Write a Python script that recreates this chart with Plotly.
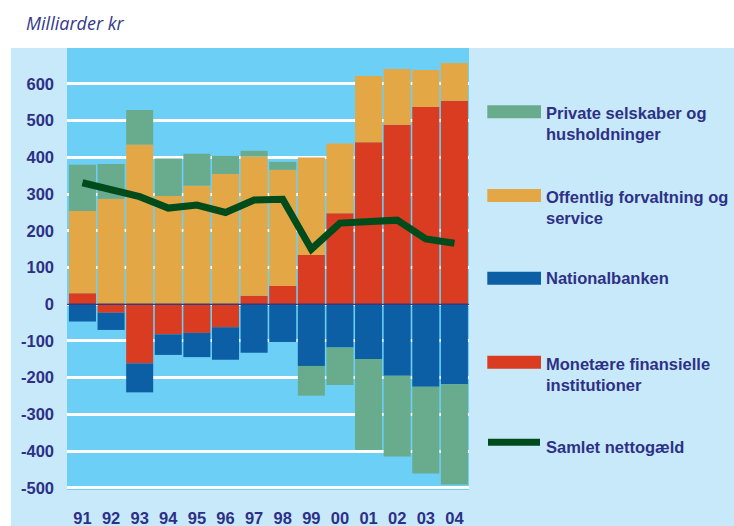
import plotly.graph_objects as go

# Years (1991-2004) and net debt components, billion DKK
years = ["91", "92", "93", "94", "95", "96", "97", "98", "99", "00", "01", "02", "03", "04"]
monetaere = [30, -23, -161, -82, -78, -63, 23, 50, 134, 248, 441, 489, 537, 554]
nationalbanken = [-47, -47, -79, -56, -66, -88, -132, -103, -168, -118, -149, -195, -225, -218]
offentlig = [224, 287, 435, 295, 323, 355, 379, 316, 266, 190, 181, 152, 101, 103]
private = [126, 95, 94, 102, 87, 49, 16, 22, -81, -102, -248, -220, -236, -273]
samlet = [331, 312, 293, 262, 270, 250, 284, 286, 150, 221, 225, 229, 178, 166]

y_ticks = [-500, -400, -300, -200, -100, 0, 100, 200, 300, 400, 500, 600]
y_labels = [str(v) for v in y_ticks]

legend_labels = [
    "Private selskaber og<br>husholdninger",
    "Offentlig forvaltning og<br>service",
    "Nationalbanken",
    "Monetære finansielle<br>institutioner",
    "Samlet nettogæld",
]

GREEN = "#69AB8D"
ORANGE = "#E3A845"
BLUE = "#0C5FA4"
RED = "#D93C20"
LINE = "#004B1C"
CYAN = "#6CCFF6"
PANEL = "#C7E9FA"
NAVY = "#2E3087"

BOLD = "Liberation Sans, Arial, sans-serif"
FS = 16.5

fig = go.Figure()
# stacking order: red first on both sides, then blue/orange, then green
for vals, col in [(monetaere, RED), (nationalbanken, BLUE), (offentlig, ORANGE), (private, GREEN)]:
    fig.add_trace(go.Bar(x=years, y=vals, marker=dict(color=col, line=dict(width=0)),
                         showlegend=False))

fig.add_trace(go.Scatter(x=years, y=samlet, mode="lines",
                         line=dict(color=LINE, width=7), showlegend=False))

W, H = 734, 526
L, R, T, B = 67, 265, 48, 36
pw, ph = W - L - R, H - T - B


def px_x(x):
    return (x - L) / pw


def px_y(y):
    return (H - B - y) / ph


shapes = [
    # light outer panel
    dict(type="rect", xref="paper", yref="paper", x0=px_x(11), x1=px_x(W + 2),
         y0=px_y(H + 2), y1=1, fillcolor=PANEL, line=dict(width=0), layer="below"),
    # plot area
    dict(type="rect", xref="paper", yref="paper", x0=0, x1=1, y0=0, y1=1,
         fillcolor=CYAN, line=dict(width=0), layer="below"),
    # zero line
    dict(type="line", xref="paper", yref="y", x0=0, x1=1, y0=0, y1=0,
         line=dict(color="#343A82", width=1.5), layer="above"),
]

annotations = [
    dict(text="<i>Milliarder kr</i>", xref="paper", yref="paper", x=px_x(24), y=px_y(23),
         xanchor="left", yanchor="middle", showarrow=False,
         font=dict(family="Open Sans, sans-serif", size=18, color="#34378E")),
]

# legend: colour swatches and labels
leg_rows = [
    (GREEN, 111.7, 123.7),
    (ORANGE, 195.5, 207.3),
    (BLUE, 278.3, 278.3),
    (RED, 362.3, 374.5),
]
for (col, sy, ty), lab in zip(leg_rows, legend_labels[:4]):
    shapes.append(dict(type="rect", xref="paper", yref="paper",
                       x0=px_x(487.3), x1=px_x(541), y0=px_y(sy + 6.5), y1=px_y(sy - 6.5),
                       fillcolor=col, line=dict(width=0)))
    annotations.append(dict(text="<b>%s</b>" % lab, xref="paper", yref="paper",
                            x=px_x(544), y=px_y(ty), xanchor="left", yanchor="middle",
                            align="left", showarrow=False,
                            font=dict(family=BOLD, size=FS, color=NAVY)))

shapes.append(dict(type="line", xref="paper", yref="paper",
                   x0=px_x(488), x1=px_x(540), y0=px_y(442.3), y1=px_y(442.3),
                   line=dict(color=LINE, width=7)))
annotations.append(dict(text="<b>%s</b>" % legend_labels[4], xref="paper", yref="paper",
                        x=px_x(544), y=px_y(446.5), xanchor="left", yanchor="middle",
                        align="left", showarrow=False,
                        font=dict(family=BOLD, size=FS, color=NAVY)))

tick_font = dict(family=BOLD, size=FS, color=NAVY, weight="bold")

fig.update_layout(
    width=W, height=H,
    margin=dict(l=L, r=R, t=T, b=B, pad=0),
    paper_bgcolor="white",
    plot_bgcolor="rgba(0,0,0,0)",
    barmode="relative",
    bargap=0.055,
    shapes=shapes,
    annotations=annotations,
    showlegend=False,
    xaxis=dict(range=[-0.54, 13.51], showgrid=False, zeroline=False, ticks="",
               showline=False, ticklabelstandoff=16, automargin=False,
               tickfont=tick_font),
    yaxis=dict(range=[-506, 698], tickvals=y_ticks, ticktext=y_labels,
               showgrid=True, gridcolor="white", gridwidth=2.5, zeroline=False,
               ticks="", showline=False, ticklabelstandoff=12, automargin=False,
               tickfont=tick_font),
)

fig.write_html("out.html")
